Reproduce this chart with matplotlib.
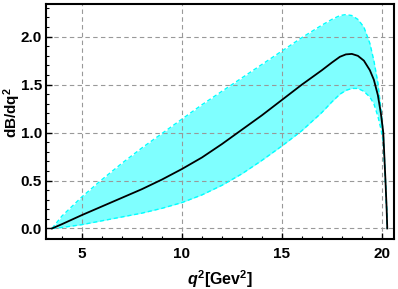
import matplotlib
matplotlib.use("Agg")
import matplotlib.pyplot as plt
from matplotlib.ticker import MultipleLocator, FormatStrFormatter

plt.rcParams["font.family"] = ["Liberation Sans", "DejaVu Sans"]
plt.rcParams["font.weight"] = "bold"
plt.rcParams["mathtext.fontset"] = "custom"
plt.rcParams["mathtext.rm"] = "Liberation Sans:bold"
plt.rcParams["mathtext.it"] = "Liberation Sans:bold:italic"
plt.rcParams["mathtext.bf"] = "Liberation Sans:bold"

# values
q2 = [3.5, 4.0, 5.0, 6.0, 7.0, 8.0, 9.0, 10.0, 11.0, 12.0, 13.0, 14.0, 15.0,
      16.0, 17.0, 17.5, 17.9, 18.2, 18.5, 18.8, 19.1, 19.4, 19.6, 19.8,
      19.95, 20.07, 20.18, 20.24, 20.27]
upper = [0.0, 0.13, 0.33, 0.51, 0.68, 0.84, 0.99, 1.14, 1.29, 1.43, 1.57,
         1.71, 1.85, 1.99, 2.12, 2.18, 2.22, 2.23, 2.22, 2.18, 2.10, 1.93,
         1.75, 1.52, 1.25, 1.00, 0.50, 0.20, 0.0]
central = [0.0, 0.045, 0.14, 0.23, 0.32, 0.41, 0.51, 0.62, 0.74, 0.88, 1.03,
           1.18, 1.34, 1.50, 1.65, 1.73, 1.79, 1.815, 1.82, 1.80, 1.75, 1.65,
           1.55, 1.39, 1.20, 1.00, 0.50, 0.20, 0.0]
lower = [0.0, 0.01, 0.04, 0.08, 0.12, 0.16, 0.21, 0.27, 0.35, 0.45, 0.57,
         0.71, 0.86, 1.02, 1.21, 1.32, 1.40, 1.44, 1.46, 1.46, 1.43, 1.37,
         1.30, 1.17, 1.04, 0.90, 0.48, 0.20, 0.0]

fig = plt.figure(figsize=(3.98, 2.89), dpi=100)
ax = fig.add_axes([0.1156, 0.173, 0.874, 0.813])

ax.fill_between(q2, lower, upper, color="#00ffff", alpha=0.5, linewidth=0)
ax.plot(q2, upper, color="#00ffff", linestyle=(0, (3, 2)), linewidth=1.0)
ax.plot(q2, lower, color="#00ffff", linestyle=(0, (3, 2)), linewidth=1.0)
ax.plot(q2, central, color="black", linewidth=1.3)

ax.set_xlim(3.2, 20.6)
ax.set_ylim(-0.11, 2.34)
ax.xaxis.set_major_locator(MultipleLocator(5))
ax.xaxis.set_minor_locator(MultipleLocator(1))
ax.yaxis.set_major_locator(MultipleLocator(0.5))
ax.yaxis.set_minor_locator(MultipleLocator(0.1))
ax.yaxis.set_major_formatter(FormatStrFormatter("%.1f"))

ax.grid(True, which="major", color="#999999", linestyle=(0, (4, 3)), linewidth=0.8)
ax.tick_params(which="both", direction="in", top=False, right=False)
ax.tick_params(which="major", length=4, width=1, labelsize=11)
ax.tick_params(which="minor", length=2, width=0.8)
ax.tick_params(axis="x", which="major", pad=6)
ax.tick_params(axis="y", which="major", pad=3)
for s in ax.spines.values():
    s.set_linewidth(1.5)

ax.set_xlabel(r"$q^{2}$[Gev$^{2}$]", fontsize=11.5, fontweight="bold")
ax.set_ylabel(r"dB/dq$^{2}$", fontsize=11, fontweight="bold")
ax.xaxis.set_label_coords(0.5, -0.125)
ax.yaxis.set_label_coords(-0.066, 0.54)

fig.savefig("out.png", dpi=100)
